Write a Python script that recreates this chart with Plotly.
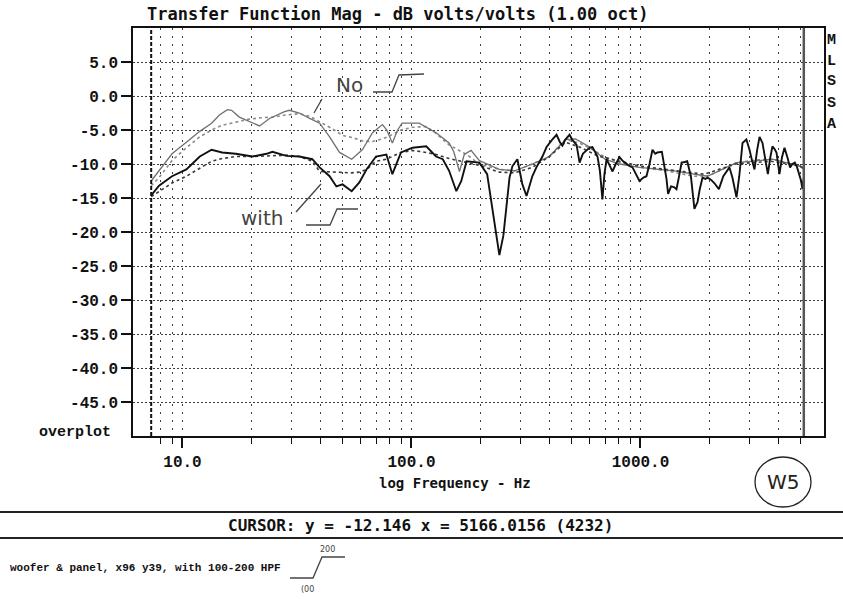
import plotly.graph_objects as go

# ---------------- data ----------------
with_a = [(7.3,-14.6),(7.9,-13.2),(9.0,-11.8),(10.4,-10.8),(11.9,-8.9),(13.4,-7.9),(14.9,-8.3),(17.1,-8.5),
          (20.2,-8.9),(23.3,-8.5),(24.7,-8.2),(28.4,-8.8),(32.4,-8.9),(36.9,-9.3),(39.7,-10.5),(43.9,-11.8),
          (47,-13.3),(50,-13.0),(54.8,-14.0),(59.2,-12.7),(63.6,-10.8),(70,-8.9),(77.7,-8.6),(82.5,-11.5),
          (90,-8.3),(101,-7.6),(116,-7.4),(128,-8.9),(137,-9.3),(146,-11.0),(157,-14.0),(165,-12.5),(174,-9.6),
          (198,-9.8),(214,-11.5),(226,-16.5),(242,-23.4),(252,-20.5),(260,-16.0),(268,-12.0),(276,-10.3),
          (290,-9.3),(305,-13.0),(318,-14.7),(337,-11.8),(351,-10.5),(373,-8.9),(389,-7.5),(410,-6.5),
          (430,-5.7),(445,-6.8),(456,-7.3),(470,-6.4),(490,-5.7),(505,-6.5),(526,-7.2),(542,-9.8),(560,-8.5),
          (581,-8.0),(600,-7.6),(617,-7.5),(635,-8.2),(649,-8.9),(665,-11.0),(682,-15.2),(696,-11.5),
          (711,-9.3),(733,-10.2),(755,-11.1),(780,-10.0),(810,-9.0),(840,-9.6),(869,-10.0),(895,-10.3),
          (923,-10.5),(955,-11.5),(990,-12.5),(1030,-12.0),(1062,-11.8),(1095,-10.0),(1128,-7.9),(1160,-8.5),
          (1185,-8.3),(1240,-8.2),(1299,-12.2),(1320,-14.4),(1360,-13.3),(1400,-13.4),(1436,-13.7),(1470,-12.0),
          (1512,-9.8),(1560,-9.7),(1600,-9.6),(1660,-11.8),(1720,-16.6),(1775,-15.6),(1815,-13.7),(1866,-12.0),
          (1920,-12.2),(1963,-12.0),(2030,-12.3),(2100,-12.8),(2200,-13.7),(2300,-11.8),(2380,-11.0),
          (2447,-10.5),(2520,-12.0),(2570,-13.3),(2626,-14.9),(2700,-11.8),(2790,-6.9),(2900,-6.4),(2993,-7.9),
          (3070,-9.5),(3147,-10.8),(3230,-8.0),(3311,-6.0),(3410,-6.9),(3500,-9.0),(3600,-11.5),(3690,-9.0),
          (3770,-7.4),(3850,-7.8),(3925,-8.3),(3990,-10.0),(4045,-11.5),(4150,-9.0),(4255,-7.6),(4380,-9.0),
          (4500,-10.5),(4610,-10.0),(4720,-9.8),(4830,-10.5),(4943,-11.8),(5030,-12.5),(5095,-13.7),(5166,-12.1)]

with_b = [(7.3,-14.8),(7.9,-14.0),(9.0,-12.8),(10.4,-11.8),(11.9,-10.6),(13.4,-9.6),(14.9,-9.2),(17.1,-8.9),
          (20.2,-8.9),(24.7,-8.8),(28.4,-8.7),(32.4,-8.9),(36.9,-9.6),(39.7,-11.1),(47,-11.2),(54.8,-11.3),
          (59.2,-11.2),(63.6,-10.8),(70,-9.6),(77.7,-9.3),(90,-8.3),(101,-8.0),(116,-8.3),(128,-8.6),
          (146,-9.2),(174,-9.8),(198,-10.2),(242,-11.2),(282,-11.3),(337,-10.5),(400,-8.9),(470,-6.8),
          (542,-7.5),(649,-8.8),(810,-9.6),(990,-10.3),(1300,-10.8),(1900,-11.5),(2600,-10.0),(3700,-9.6),
          (4900,-10.2),(5166,-10.6)]

no_a = [(7.3,-12.5),(7.9,-11.0),(9.0,-8.5),(10.4,-6.8),(11.9,-5.2),(13.4,-4.0),(14.5,-2.8),(15.7,-2.0),
        (16.4,-2.1),(17.7,-3.1),(19.6,-3.8),(21.7,-4.4),(24,-3.3),(25.7,-2.8),(27.9,-2.3),(29.3,-2.1),
        (32.4,-2.5),(35.9,-3.3),(39.7,-4.0),(43.9,-6.0),(48.5,-8.3),(54.8,-9.3),(61,-7.9),(67.6,-5.4),
        (74.7,-4.2),(78,-5.0),(82.5,-6.9),(87,-5.0),(91,-4.0),(108,-4.0),(128,-5.4),(146,-6.9),(153,-8.2),
        (162,-11.1),(170,-8.6),(182,-8.0),(198,-9.5),(242,-10.8),(282,-11.0),(337,-10.0),(400,-8.9),
        (470,-6.4),(520,-6.3),(600,-7.5),(700,-9.3),(810,-10.0),(990,-10.5),(1400,-11.0),(1960,-11.8),
        (2626,-9.8),(3770,-9.3),(4943,-10.3),(5166,-10.8)]

no_b = [(7.3,-13.2),(7.9,-12.0),(9.0,-9.5),(10.4,-7.6),(11.9,-6.0),(13.4,-5.0),(14.9,-4.3),(17.1,-3.8),
        (19.6,-3.4),(22,-3.2),(25,-3.1),(28,-2.8),(32.4,-2.6),(36,-3.0),(40,-3.8),(45,-4.8),(50,-5.8),
        (55,-6.1),(61,-6.6),(67.6,-6.7),(74.7,-6.3),(80,-5.9),(90,-5.0),(101,-4.6),(116,-4.5),(128,-5.5),
        (146,-7.2),(174,-8.6),(198,-10.0),(242,-10.8),(282,-11.0),(337,-10.0),(400,-8.9),(470,-6.4),
        (540,-6.9),(620,-7.9),(700,-9.0),(810,-9.8),(990,-10.5),(1300,-11.0),(1700,-11.8),(2000,-11.7),
        (2626,-9.8),(3200,-9.4),(3770,-9.3),(4943,-10.3),(5166,-10.6)]

y_tick_vals = [5.0, 0.0, -5.0, -10.0, -15.0, -20.0, -25.0, -30.0, -35.0, -40.0, -45.0]
y_range = [-50.0, 10.0]
x_major_ticks = [10, 100, 1000]
x_major_labels = ["10.0", "100.0", "1000.0"]
x_minor_ticks = [8, 9, 20, 30, 40, 50, 60, 70, 80, 90, 200, 300, 400, 500, 600, 700, 800, 900,
                 2000, 3000, 4000, 5000]
x_range_hz = [6.08, 6330.0]

title_text = "Transfer Function Mag - dB volts/volts (1.00 oct)"
x_title = "log Frequency - Hz"
cursor_text = "CURSOR: y = -12.146 x = 5166.0156 (4232)"
note_text = "woofer &amp; panel, x96 y39, with 100-200 HPF"
side_letters = ["M", "L", "S", "S", "A"]

# ---------------- layout helpers (pixel -> paper) ----------------
W, H = 843, 599
L, R, T, B = 133, 824, 28, 436
def px(p):
    return (p - L) / (R - L)
def py(p):
    return (B - p) / (B - T)

import math
fig = go.Figure()

series = [
    (no_b, "#8c8c8c", 1.6, "dot"),
    (no_a, "#707070", 1.3, "solid"),
    (with_b, "#3a3a3a", 1.6, "dot"),
    (with_a, "#111111", 1.9, "solid"),
]
for pts, color, width, dash in series:
    f = [p[0] for p in pts]
    d = [p[1] for p in pts]
    fig.add_trace(go.Scatter(x=f, y=d, mode="lines", showlegend=False, hoverinfo="skip",
                             line=dict(color=color, width=width, dash=dash)))

mono_b = dict(family="Liberation Mono", size=16, color="#111", weight="bold")
title_font = dict(family="DejaVu Sans Mono", size=17, color="#111", weight="bold")

fig.update_xaxes(
    type="log",
    range=[math.log10(x_range_hz[0]), math.log10(x_range_hz[1])],
    tickvals=x_major_ticks, ticktext=x_major_labels,
    ticks="outside", ticklen=10, tickwidth=1.5, tickcolor="#111",
    showgrid=True, gridcolor="#3c3c3c", gridwidth=1, griddash="2px,6px",
    minor=dict(tickvals=x_minor_ticks, ticks="outside", ticklen=6, tickwidth=1, tickcolor="#111",
               showgrid=True, gridcolor="#3c3c3c", gridwidth=1, griddash="2px,6px"),
    showline=True, linecolor="#111", linewidth=1.5, mirror=True, zeroline=False,
    tickfont=mono_b,
)
fig.update_yaxes(
    range=y_range,
    tickvals=y_tick_vals, ticktext=[f"{v:.1f}" for v in y_tick_vals],
    ticks="outside", ticklen=10, tickwidth=1.5, tickcolor="#111",
    showgrid=True, gridcolor="#3c3c3c", gridwidth=1, griddash="2px,2px",
    showline=True, linecolor="#111", linewidth=1.5, mirror=True, zeroline=False,
    tickfont=mono_b,
)

all_f = [p[0] for p in with_a]
shapes = [
    dict(type="line", xref="x", yref="paper", x0=min(all_f), x1=min(all_f), y0=0, y1=1,
         line=dict(color="#111", width=2, dash="4px,2px")),
    dict(type="line", xref="x", yref="paper", x0=max(all_f), x1=max(all_f), y0=0, y1=1,
         line=dict(color="#555", width=2.5)),
    # separators
    dict(type="line", xref="paper", yref="paper", x0=px(0), x1=px(W), y0=py(512), y1=py(512),
         line=dict(color="#222", width=2)),
    dict(type="line", xref="paper", yref="paper", x0=px(0), x1=px(W), y0=py(538), y1=py(538),
         line=dict(color="#222", width=2)),
    # W5 circle
    dict(type="circle", xref="paper", yref="paper", x0=px(755), x1=px(811), y0=py(507), y1=py(457),
         line=dict(color="#222", width=1.3)),
]

def path(points):
    return "M " + " L ".join(f"{px(a):.5f},{py(b):.5f}" for a, b in points)

hand = dict(color="#444", width=1.3)
shapes += [
    dict(type="path", xref="paper", yref="paper", path=path([(373, 92), (392, 92), (399, 75), (424, 74)]), line=hand),
    dict(type="path", xref="paper", yref="paper", path=path([(322, 99), (314, 113)]), line=hand),
    dict(type="path", xref="paper", yref="paper", path=path([(306, 225), (330, 225), (337, 209), (358, 209)]), line=hand),
    dict(type="path", xref="paper", yref="paper", path=path([(321, 184), (296, 212)]), line=hand),
    dict(type="path", xref="paper", yref="paper", path=path([(290, 578), (313, 578), (322, 557), (345, 557)]), line=hand),
]

ann = []
def add(text, x, y, font, xanchor="center"):
    ann.append(dict(text=text, x=px(x), y=py(y), xref="paper", yref="paper", showarrow=False,
                    xanchor=xanchor, yanchor="middle", font=font))

add(title_text, 398, 14, title_font)
add(x_title, 455, 483, dict(family="DejaVu Sans Mono", size=14, color="#111", weight="bold"))
add("overplot", 75, 432, dict(family="Liberation Mono", size=15, color="#111", weight="bold"))
for i, ch in enumerate(side_letters):
    add(ch, 832, 40 + i * 21, dict(family="Liberation Mono", size=15, color="#111", weight="bold"))
add(cursor_text, 420, 525, dict(family="DejaVu Sans Mono", size=16, color="#111", weight="bold"))
add(note_text, 8, 568, dict(family="Liberation Mono", size=11, color="#111", weight="bold"), xanchor="left")
hand_font = dict(family="DejaVu Sans", size=20, color="#444")
add("No", 349, 85, hand_font)
add("with", 262, 218, hand_font)
add("W5", 783, 482, dict(family="DejaVu Sans", size=20, color="#222"))
add("200", 327, 549, dict(family="DejaVu Sans", size=8, color="#444"))
add("(00", 307, 589, dict(family="DejaVu Sans", size=8, color="#444"))

fig.update_layout(
    width=W, height=H,
    margin=dict(l=L, r=W - R, t=T, b=H - B),
    paper_bgcolor="white", plot_bgcolor="white",
    shapes=shapes, annotations=ann, showlegend=False,
)
fig.write_html("out.html", config={"displayModeBar": False},
               post_script="document.body.style.margin='0px';")
